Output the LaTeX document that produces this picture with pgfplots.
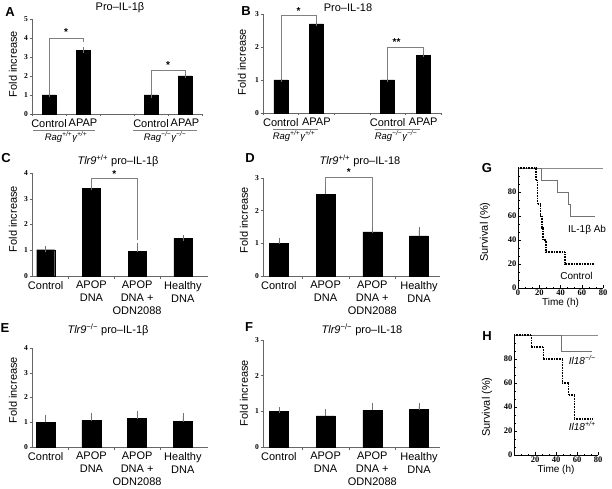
\documentclass[border=0pt]{standalone}
\usepackage{fontspec}
\setmainfont{Liberation Serif}
\newfontfamily\arial{Liberation Sans}
\usepackage{pgfplots}
\pgfplotsset{compat=1.18}

\newcommand{\fs}[2][]{\fontsize{#2}{#2}\selectfont}

\pgfplotsset{
  barpanel/.style={
    scale only axis, anchor=south west, clip=false,
    axis x line*=bottom, axis y line*=left,
    axis line style={black!60, line width=0.6pt},
    tick style={black!60, line width=0.5pt},
    tick align=outside, major tick length=2.5pt,
    ymin=0, xticklabel=\mbox{},
    /pgf/number format/assume math mode=true,
    yticklabel style={font=\bfseries\fs{7.5}, inner sep=1.5pt},
  },
  bars/.style={ybar, fill=black, draw=black,
    error bars/.cd, y dir=plus, y explicit,
    error bar style={black!55, line width=0.6pt},
    error mark options={black!55, line width=0.6pt, mark size=3pt}},
  survpanel/.style={
    scale only axis, anchor=south west, clip=false,
    axis x line*=bottom, axis y line*=left,
    axis line style={black, line width=0.6pt},
    tick style={black, line width=0.5pt},
    tick align=inside, major tick length=3pt, minor tick length=1.5pt,
    xmin=0, xmax=80, ymin=0, ymax=100,
    xtick={0,20,...,80}, ytick={0,20,...,100},
    yticklabels={0,20,40,60,80,{}},
    minor x tick num=2, minor y tick num=2,
    /pgf/number format/assume math mode=true,
    ticklabel style={font=\bfseries\fs{8.5}, inner sep=1.5pt},
  },
}
\tikzset{
  bracket/.style={black!50, line width=0.6pt},
  star/.style={font=\arial\bfseries\fs{10}, inner sep=0pt},
  cat/.style={font=\arial\fontsize{11}{13}\selectfont, align=center, anchor=north, inner sep=0pt, yshift=-5pt},
  ttl/.style={font=\arial\fs{11}},
  lbl/.style={font=\arial\bfseries\fs{13}},
  ylab/.style={font=\arial\fs{11}, rotate=90},
  grp/.style={font=\arial\itshape\fs{9.5}},
}

\begin{document}
\begin{tikzpicture}
\path[use as bounding box] (0pt,0pt) rectangle (612pt,-489pt);

% panel letters
\node[lbl] at (10pt,-12pt) {A};
\node[lbl] at (246pt,-11pt) {B};
\node[lbl] at (6pt,-158pt) {C};
\node[lbl] at (250pt,-158pt) {D};
\node[lbl] at (5pt,-328pt) {E};
\node[lbl] at (249pt,-327pt) {F};
\node[lbl] at (487pt,-168pt) {G};
\node[lbl] at (487pt,-336pt) {H};

% titles
\node[ttl] at (120pt,-8pt) {Pro–IL-1β};
\node[ttl] at (348pt,-8pt) {Pro–IL-18};
\node[ttl] at (118pt,-161pt) {{\itshape Tlr9}\textsuperscript{+/+} pro–IL-1β};
\node[ttl] at (360pt,-161pt) {{\itshape Tlr9}\textsuperscript{+/+} pro–IL-18};
\node[ttl] at (108pt,-330pt) {{\itshape Tlr9}\textsuperscript{−/−} pro–IL-1β};
\node[ttl] at (362pt,-330pt) {{\itshape Tlr9}\textsuperscript{−/−} pro–IL-18};

% y labels
\node[ylab] at (13pt,-64pt) {Fold increase};
\node[ylab] at (242pt,-62pt) {Fold increase};
\node[ylab] at (13pt,-219pt) {Fold increase};
\node[ylab] at (244pt,-220pt) {Fold increase};
\node[ylab] at (13pt,-390pt) {Fold increase};
\node[ylab] at (244pt,-393pt) {Fold increase};
\node[ylab] at (485pt,-232pt) {Survival (\%)};
\node[ylab] at (487pt,-407pt) {Survival (\%)};

% group labels A, B
\draw[black!50, line width=0.6pt] (33pt,-130pt) -- (95pt,-130pt);
\draw[black!50, line width=0.6pt] (133pt,-130pt) -- (197pt,-130pt);
\node[grp] at (66pt,-137pt) {Rag\textsuperscript{+/+}γ\textsuperscript{+/+}};
\node[grp] at (165pt,-137pt) {Rag\textsuperscript{−/−}γ\textsuperscript{−/−}};
\draw[black!50, line width=0.6pt] (273pt,-129pt) -- (318pt,-129pt);
\draw[black!50, line width=0.6pt] (375pt,-129pt) -- (420pt,-129pt);
\node[grp] at (294pt,-136pt) {Rag\textsuperscript{+/+}γ\textsuperscript{+/+}};
\node[grp] at (396pt,-136pt) {Rag\textsuperscript{−/−}γ\textsuperscript{−/−}};

% A
\begin{axis}[barpanel, at={(32pt,-114pt)}, width=170pt, height=95pt,
  xmin=0, xmax=5, ymax=5, xtick={0,...,5}, ytick={0,...,5}, bar width=14pt]
\addplot[bars] coordinates {(0.5,1.0) +- (0,0.03) (1.5,3.35) +- (0,0.03)
  (3.5,1.0) +- (0,0.02) (4.5,2.0) +- (0,0.05)};
\draw[bracket] (0.5,1.05) -- (0.5,4.0) -- (1.5,4.0) -- (1.5,3.8);
\node[star] at (1.0,4.3) {*};
\draw[bracket] (3.5,1.05) -- (3.5,2.32) -- (4.5,2.32) -- (4.5,2.1);
\node[star] at (4.0,2.6) {*};
\node[cat] at (0.5,0) {Control};
\node[cat] at (1.5,0) {APAP};
\node[cat] at (3.5,0) {Control};
\node[cat] at (4.5,0) {APAP};
\end{axis}

% B
\begin{axis}[barpanel, at={(263pt,-113pt)}, width=178pt, height=99pt,
  xmin=0, xmax=5, ymax=3, xtick={0,...,5}, ytick={0,...,3}, bar width=14pt]
\addplot[bars] coordinates {(0.5,1.0) +- (0,0.02) (1.5,2.7) +- (0,0.04)
  (3.5,1.0) +- (0,0.02) (4.5,1.75) +- (0,0.03)};
\draw[bracket] (0.5,1.04) -- (0.5,2.97) -- (1.5,2.97) -- (1.5,2.78);
\node[star] at (1.0,3.1) {*};
\draw[bracket] (3.5,1.04) -- (3.5,2.0) -- (4.5,2.0) -- (4.5,1.82);
\node[star] at (3.75,2.14) {**};
\node[cat] at (0.5,0) {Control};
\node[cat] at (1.5,0) {APAP};
\node[cat] at (3.5,0) {Control};
\node[cat] at (4.5,0) {APAP};
\end{axis}

% C
\begin{axis}[barpanel, at={(32pt,-276pt)}, width=176pt, height=103pt,
  xmin=0.7, xmax=4.55, ymax=4, xtick={1.5,2.5,3.5}, ytick={0,...,4}, bar width=18pt]
\addplot[bars] coordinates {(1,1.02) +- (0,0.04) (2,3.4) +- (0,0.06)
  (3,0.95) +- (0,0.2) (4,1.45) +- (0,0.02)};
\draw[bracket] (2,3.48) -- (2,3.8) -- (3,3.8) -- (3,1.4);
\node[star] at (2.5,3.97) {*};
\node[cat] at (1,0) {Control};
\node[cat] at (2,0) {APOP\\DNA};
\node[cat] at (3,0) {APOP\\DNA +\\ODN2088};
\node[cat] at (4,0) {Healthy\\DNA};
\end{axis}

% D
\begin{axis}[barpanel, at={(263pt,-276pt)}, width=177pt, height=98pt,
  xmin=0.66, xmax=4.45, ymax=3, xtick={1.5,2.5,3.5}, ytick={0,...,3}, bar width=19pt]
\addplot[bars] coordinates {(1,1.0) +- (0,0.08) (2,2.5) +- (0,0.22)
  (3,1.35) +- (0,0.06) (4,1.23) +- (0,0.18)};
\draw[bracket] (2,2.76) -- (2,3.03) -- (3,3.03) -- (3,1.5);
\node[star] at (2.5,3.17) {*};
\node[cat] at (1,0) {Control};
\node[cat] at (2,0) {APOP\\DNA};
\node[cat] at (3,0) {APOP\\DNA +\\ODN2088};
\node[cat] at (4,0) {Healthy\\DNA};
\end{axis}

% E
\begin{axis}[barpanel, at={(32pt,-447pt)}, width=176pt, height=99pt,
  xmin=0.7, xmax=4.55, ymax=4, xtick={1.5,2.5,3.5}, ytick={0,...,4}, bar width=19pt]
\addplot[bars] coordinates {(1,1.0) +- (0,0.18) (2,1.07) +- (0,0.2)
  (3,1.15) +- (0,0.2) (4,1.03) +- (0,0.22)};
\node[cat] at (1,0) {Control};
\node[cat] at (2,0) {APOP\\DNA};
\node[cat] at (3,0) {APOP\\DNA +\\ODN2088};
\node[cat] at (4,0) {Healthy\\DNA};
\end{axis}

% F
\begin{axis}[barpanel, at={(263pt,-447pt)}, width=177pt, height=107pt,
  xmin=0.66, xmax=4.45, ymax=3, xtick={1.5,2.5,3.5}, ytick={0,...,3}, bar width=19pt]
\addplot[bars] coordinates {(1,1.0) +- (0,0.03) (2,0.87) +- (0,0.1)
  (3,1.03) +- (0,0.12) (4,1.05) +- (0,0.1)};
\node[cat] at (1,0) {Control};
\node[cat] at (2,0) {APOP\\DNA};
\node[cat] at (3,0) {APOP\\DNA +\\ODN2088};
\node[cat] at (4,0) {Healthy\\DNA};
\end{axis}

% G
\begin{axis}[survpanel, at={(518pt,-288pt)}, width=85pt, height=120pt,
  xlabel={Time (h)}, xlabel style={font=\arial\fs{10}, inner sep=1pt}]
\draw[black!45, line width=0.8pt] (0,100) -- (80,100);
\addplot[black!55, line width=0.8pt] coordinates {(0,100) (22,100) (22,90) (37,90)
  (37,80) (47,80) (47,70) (49,70) (49,60) (72,60)};
\addplot[black, line width=1.6pt, dash pattern=on 0.8pt off 0.8pt] coordinates {
  (0,100) (17,100) (17,90) (18.5,90) (18.5,70) (21,70) (21,60) (22.5,60)
  (22.5,50) (23.5,50) (23.5,40) (26.5,40) (26.5,30) (44,30) (44,20) (72,20)};
\node[font=\arial\fs{10}] at (65,48) {IL-1β Ab};
\node[font=\arial\fs{10}] at (55,10) {Control};
\end{axis}

% H
\begin{axis}[survpanel, at={(514pt,-455pt)}, width=84pt, height=120pt,
  xticklabels={{},20,40,60,80},
  xlabel={Time (h)}, xlabel style={font=\arial\fs{10}, inner sep=1pt}]
\draw[black!45, line width=0.8pt] (0,100) -- (80,100);
\addplot[black!55, line width=0.8pt] coordinates {(0,100) (45,100) (45,86) (74,86)};
\addplot[black, line width=1.6pt, dash pattern=on 0.8pt off 0.8pt] coordinates {
  (0,100) (16.5,100) (16.5,90) (28,90) (28,80) (46,80) (46,60) (52,60)
  (52,50) (57.5,50) (57.5,30) (74,30)};
\node[font=\arial\itshape\fs{10}] at (65,79) {Il18\textsuperscript{−/−}};
\node[font=\arial\itshape\fs{10}] at (65,24) {Il18\textsuperscript{+/+}};
\end{axis}
\end{tikzpicture}
\end{document}
